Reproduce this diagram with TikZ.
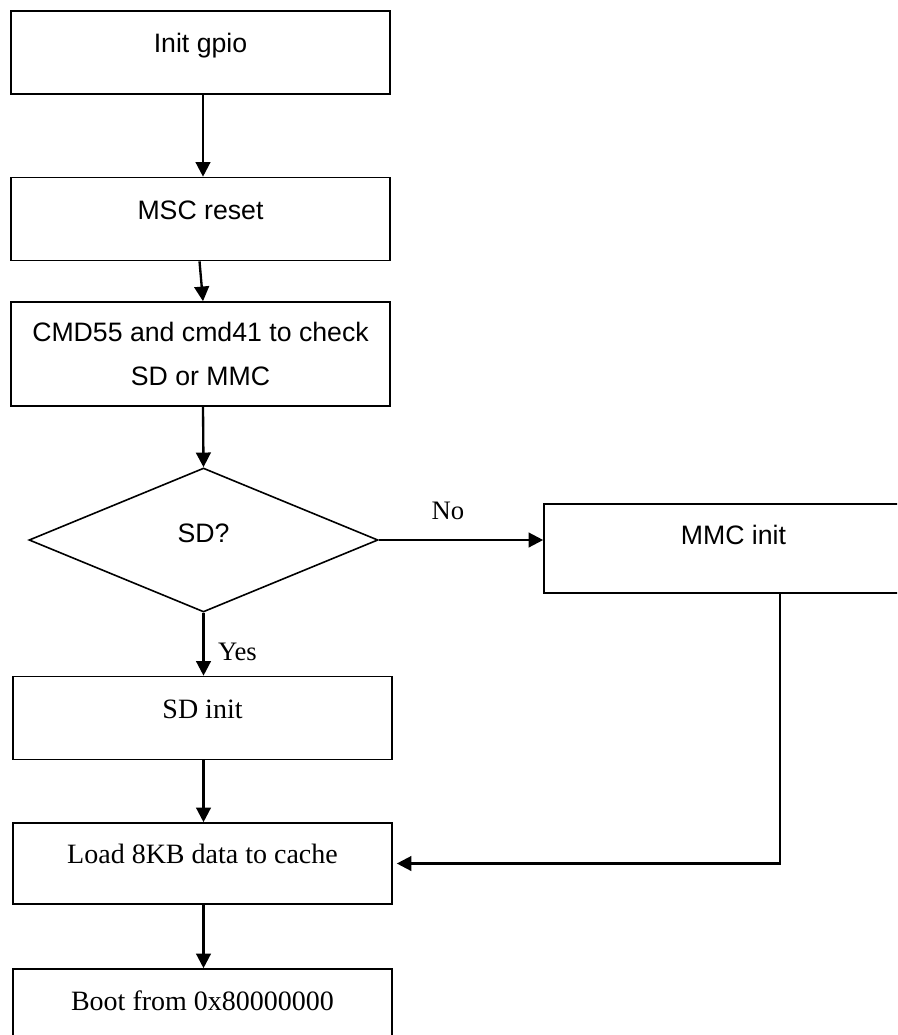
\documentclass[tikz,border=0pt]{standalone}
\usepackage{fontspec}
\setmainfont{Liberation Serif}
\newfontfamily\arialfont{Liberation Sans}
\usetikzlibrary{arrows.meta, calc, shapes.geometric}
\tikzset{
  >={Triangle[length=11pt, width=11pt]},
  every picture/.style={line join=miter},
  % process boxes (sizes in pt, the picture units are pixels)
  box/.style={draw, line width=1.2pt, rectangle, inner sep=0pt,
    minimum width=284.25pt, minimum height=62.25pt,
    text height=15pt, text depth=15pt},
  sansbox/.style={box, font=\arialfont\fontsize{20}{33}\selectfont},
  serifbox/.style={box, font=\fontsize{21}{25}\selectfont},
  decision/.style={draw, line width=1.2pt, diamond, inner sep=0pt,
    minimum width=261.75pt, minimum height=108pt,
    text height=15pt, text depth=10.6pt, font=\arialfont\fontsize{20}{24}\selectfont},
  flow/.style={->, line width=1.75pt},
  lbl/.style={inner sep=0pt, font=\fontsize{20}{24}\selectfont},
}
\begin{document}
\begin{tikzpicture}[x=0.75pt, y=-0.75pt]
  \useasboundingbox (0,0) rectangle (897,1035);
  \clip (0,0) rectangle (897,1035);
  % main column
  \node[sansbox] (gpio) at (200.5,52.5) {Init gpio};
  \node[sansbox] (msc) at (200.5,219) {MSC reset};
  \node[sansbox, minimum height=78pt, text height=, text depth=, align=center] (cmd) at (200.5,354)
    {CMD55 and cmd41 to check\\SD or MMC};
  \node[decision] (sd) at (203.5,540) {SD?};
  \node[serifbox] (sdinit) at (202.5,718) {SD init};
  \node[serifbox, minimum height=60.75pt] (load) at (202.5,863.5) {Load 8KB data to cache};
  \node[serifbox] (boot) at (202.5,1010.5) {Boot from 0x80000000};
  % mmc branch, cut by the right edge
  \node[sansbox, minimum height=66.75pt, text depth=20.6pt] (mmc) at (733.5,548.5) {MMC init};
  \coordinate (mmcout) at ($(mmc.south)+(46.5,0)$);
  % connectors
  \draw[flow] ($(gpio.south)+(2.5,0)$) -- ($(msc.north)+(2.5,0)$);
  \draw[flow] ($(msc.south)+(-1,0)$) -- ($(cmd.north)+(2.5,0)$);
  \draw[flow] ($(cmd.south)+(2.5,0)$) -- (sd.north);
  \draw[flow] (sd.south) -- node[lbl, right=10pt, pos=0.62] {Yes} ($(sdinit.north)+(1,0)$);
  \draw[flow] (sd.east) -- node[lbl, above=14pt, pos=0.42] {No} (sd.east -| mmc.west);
  \draw[flow] ($(sdinit.south)+(1,0)$) -- ($(load.north)+(1,0)$);
  \draw[flow] ($(load.south)+(1,0)$) -- ($(boot.north)+(1,0)$);
  \draw[flow, shorten >=3pt] (mmcout) |- (load.east);
\end{tikzpicture}
\end{document}
